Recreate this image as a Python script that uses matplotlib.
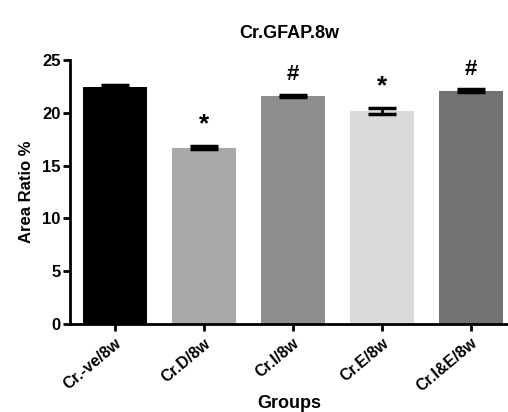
import matplotlib.pyplot as plt
import numpy as np

groups = ["Cr.-ve/8w", "Cr.D/8w", "Cr.I/8w", "Cr.E/8w", "Cr.I&E/8w"]
values = [22.5, 16.7, 21.6, 20.2, 22.1]
errors = [0.15, 0.15, 0.12, 0.3, 0.12]
marks = ["", "*", "#", "*", "#"]
colors = ["#000000", "#a9a9a9", "#8e8e8e", "#dadada", "#727272"]

plt.rcParams['font.family'] = ['Liberation Sans', 'DejaVu Sans']
plt.rcParams['font.weight'] = 'bold'

fig = plt.figure(figsize=(5.08, 4.12), dpi=100)
ax = fig.add_axes([0.138, 0.214, 0.862, 0.64])

x = np.arange(len(groups))
ax.bar(x, values, width=0.72, color=colors)
ax.errorbar(x, values, yerr=errors, fmt='none', ecolor='black',
            elinewidth=2, capsize=10, capthick=2.5)

for xi, v, e, m in zip(x, values, errors, marks):
    if m:
        ax.text(xi, v + e + 0.9, m, ha='center', va='bottom',
                fontsize=19 if m == "*" else 16, fontweight='bold')

ax.set_xlim(-0.5, 4.42)
ax.set_ylim(0, 25)
ax.set_yticks([0, 5, 10, 15, 20, 25])
ax.set_xticks(x)
ax.set_xticklabels(groups, rotation=40, ha='right', rotation_mode='anchor',
                   fontsize=11.5, fontweight='bold')
ax.tick_params(axis='y', labelsize=12, width=2, length=5, pad=2)
ax.tick_params(axis='x', width=2, length=5)
for lbl in ax.get_yticklabels():
    lbl.set_fontweight('bold')

ax.spines['top'].set_visible(False)
ax.spines['right'].set_visible(False)
ax.spines['left'].set_linewidth(2)
ax.spines['bottom'].set_linewidth(2)

ax.set_ylabel("Area Ratio %", fontsize=12, fontweight='bold', labelpad=6)
ax.set_xlabel("Groups", fontsize=13, fontweight='bold', labelpad=0)
ax.set_title("Cr.GFAP.8w", fontsize=13, fontweight='bold', pad=16)

fig.savefig("out.png", dpi=100)
